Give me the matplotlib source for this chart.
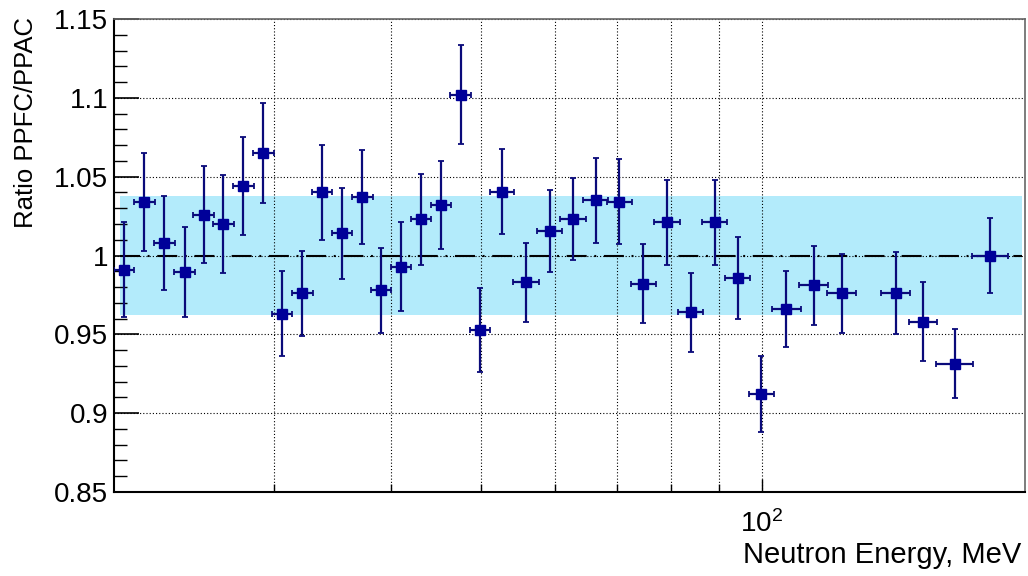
import matplotlib
matplotlib.use('Agg')
import matplotlib.pyplot as plt
from matplotlib.ticker import FixedLocator, NullFormatter, MultipleLocator, FixedFormatter

# ---- data ----
energy = [20.71, 21.78, 22.88, 24.07, 25.22, 26.47, 27.81, 29.21, 30.60, 32.16,
          33.77, 35.48, 37.31, 39.07, 41.05, 43.12, 45.31, 47.57, 49.89, 52.68,
          55.84, 59.23, 62.77, 66.41, 70.37, 74.65, 79.19, 83.93, 89.02, 94.21,
          99.93, 106.3, 113.8, 121.9, 139.3, 149.1, 161.1, 175.8]
energy_err = [0.53, 0.56, 0.59, 0.62, 0.65, 0.68, 0.71, 0.75, 0.79, 0.83,
              0.87, 0.91, 0.96, 1.00, 1.05, 1.11, 1.16, 1.22, 1.28, 1.58,
              1.79, 1.84, 1.95, 2.06, 2.18, 2.31, 2.45, 2.60, 2.76, 2.92,
              3.10, 3.83, 4.10, 4.39, 5.01, 5.07, 7.25, 7.91]
ratio = [0.991, 1.034, 1.008, 0.9895, 1.026, 1.020, 1.044, 1.065, 0.963, 0.976,
         1.040, 1.014, 1.037, 0.978, 0.993, 1.023, 1.032, 1.102, 0.9525, 1.0405,
         0.983, 1.0156, 1.023, 1.035, 1.034, 0.982, 1.021, 0.964, 1.021, 0.986,
         0.912, 0.966, 0.981, 0.976, 0.976, 0.958, 0.9315, 1.000]
ratio_err = [0.030, 0.031, 0.030, 0.0286, 0.031, 0.031, 0.031, 0.032, 0.027, 0.027,
             0.030, 0.029, 0.030, 0.027, 0.028, 0.029, 0.028, 0.0315, 0.0267, 0.027,
             0.025, 0.026, 0.026, 0.027, 0.027, 0.025, 0.027, 0.025, 0.027, 0.026,
             0.024, 0.024, 0.025, 0.025, 0.026, 0.025, 0.022, 0.024]
band_range = [20.5, 190.0]
band_center = 1.0
band_half = 0.038
ytick_vals = [0.85, 0.90, 0.95, 1.00, 1.05, 1.10, 1.15]
ytick_labels = ['0.85', '0.9', '0.95', '1', '1.05', '1.1', '1.15']
xgrid_minor = [30, 40, 50, 60, 70, 80, 90]
xtick_major = [100]
xtick_labels = [r'$10^{2}$']

plt.rcParams['font.family'] = ['Liberation Sans', 'DejaVu Sans']
plt.rcParams['mathtext.fontset'] = 'custom'
plt.rcParams['mathtext.rm'] = 'Liberation Sans'
plt.rcParams['mathtext.it'] = 'Liberation Sans:italic'
plt.rcParams['lines.scale_dashes'] = False

fig = plt.figure(figsize=(10.28, 5.76), dpi=100)
ax = fig.add_axes([114/1028, 1 - 492/576, 911/1028, 473/576])
ax.set_xscale('log')
ax.set_xlim(20.2, 191.6)
ax.set_ylim(0.85, 1.15)

# systematic band
ax.fill_between(band_range, band_center - band_half, band_center + band_half,
                color='#b3ebfb', lw=0, zorder=0.3)
# reference line
ax.plot(band_range, [band_center, band_center], color='black', lw=1.5,
        dashes=[14.4, 5.5, 1.4, 5.5], zorder=1.6)

ax.errorbar(energy, ratio, yerr=ratio_err, xerr=energy_err, fmt='s',
            color='#000099', ms=7.2, mec='#000099', mfc='#000099',
            ecolor='#0a0a7a', elinewidth=1.6, capsize=2.5, capthick=1.3,
            zorder=3)

# ticks
ax.xaxis.set_major_locator(FixedLocator(xtick_major))
ax.xaxis.set_major_formatter(FixedFormatter(xtick_labels))
ax.xaxis.set_minor_locator(FixedLocator(xgrid_minor))
ax.xaxis.set_minor_formatter(NullFormatter())
ax.yaxis.set_major_locator(FixedLocator(ytick_vals))
ax.yaxis.set_major_formatter(FixedFormatter(ytick_labels))
ax.yaxis.set_minor_locator(MultipleLocator(0.01))

ax.tick_params(axis='y', which='major', direction='in', length=18, width=1.2,
               labelsize=20, pad=4, right=False)
ax.tick_params(axis='y', which='minor', direction='in', length=9, width=1.0, right=False)
ax.tick_params(axis='x', which='major', direction='in', length=9.5, width=1.0,
               labelsize=20, pad=13, top=False)
ax.tick_params(axis='x', which='minor', direction='in', length=6, width=1.0, top=False)

ax.grid(True, which='major', axis='y', color='black', lw=0.8, linestyle=(0, (0.8, 1.5)))
ax.grid(True, which='both', axis='x', color='black', lw=0.8, linestyle=(0, (0.8, 1.5)))

for s in ['left', 'bottom']:
    ax.spines[s].set_linewidth(1.5)
    ax.spines[s].set_color('black')
for s in ['top', 'right']:
    ax.spines[s].set_linewidth(1.2)
    ax.spines[s].set_color('#666666')

fig.text(26/1028, 1 - 17/576, 'Ratio PPFC/PPAC', rotation=90, ha='center',
         va='top', fontsize=18.5)
fig.text(1021/1028, 1 - 563/576, 'Neutron Energy, MeV', ha='right',
         va='baseline', fontsize=21)

fig.savefig('out.png', dpi=100)
